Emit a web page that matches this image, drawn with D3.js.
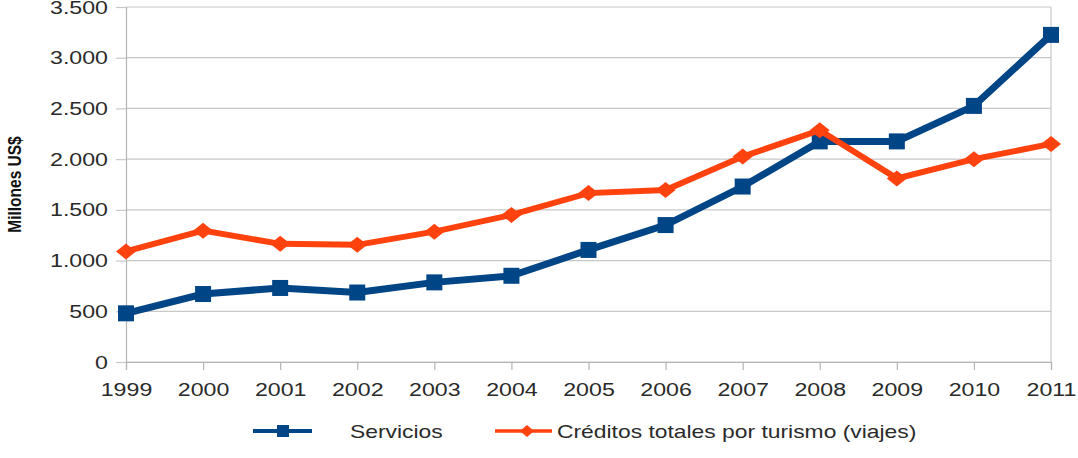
<!DOCTYPE html>
<html>
<head>
<meta charset="utf-8">
<script src="https://cdn.jsdelivr.net/npm/d3@7"></script>
<style>
  html, body { margin: 0; padding: 0; background: #fff; }
  svg { display: block; font-family: "Liberation Sans", Arial, sans-serif; }
</style>
</head>
<body>
<svg id="chart" width="1078" height="458"></svg>
<script>
const years = ["1999","2000","2001","2002","2003","2004","2005","2006","2007","2008","2009","2010","2011"];
const servicios = [480, 670, 730, 685, 785, 850, 1105, 1350, 1730, 2175, 2175, 2525, 3225];
const creditos = [1090, 1295, 1165, 1155, 1285, 1450, 1665, 1695, 2025, 2285, 1810, 2000, 2150];
const yTicks = [0, 500, 1000, 1500, 2000, 2500, 3000, 3500];
const seriesNames = ["Servicios", "Créditos totales por turismo (viajes)"];
const yLabel = "Millones US$";

(function () {
const svg = d3.select("#chart");
const pL = 126, pR = 1051, pT = 7, pB = 362;
const SX = 1.22;
const textColor = "#2a2a2a";
const blue = "#004586", orange = "#ff420e";

const x = d3.scalePoint().domain(years).range([pL, pR]).padding(0);
const y = d3.scaleLinear().domain([0, 3500]).range([pB, pT]);
const fmt = d => d3.format(",")(d).replace(/,/g, ".");

// gridlines
svg.append("g").selectAll("line").data(yTicks).join("line")
  .attr("x1", pL).attr("x2", pR)
  .attr("y1", d => y(d)).attr("y2", d => y(d))
  .attr("stroke", "#c8c8c8").attr("stroke-width", 1.2);

// right frame line
svg.append("line").attr("x1", pR).attr("x2", pR).attr("y1", pT).attr("y2", pB)
  .attr("stroke", "#c8c8c8").attr("stroke-width", 1.2);

// Y axis
const yAxis = svg.append("g").attr("transform", `translate(${pL},0)`)
  .call(d3.axisLeft(y).tickValues(yTicks).tickFormat(fmt).tickSize(10).tickPadding(8));
yAxis.select(".domain").attr("stroke", "#b4b4b4").attr("stroke-width", 1.2);
yAxis.selectAll(".tick line").attr("stroke", "#c8c8c8").attr("stroke-width", 1.2);
yAxis.selectAll(".tick text")
  .attr("font-size", 19).attr("fill", textColor)
  .attr("x", -18 / SX).attr("transform", `scale(${SX},1)`);

// X axis
const xAxis = svg.append("g").attr("transform", `translate(0,${pB})`)
  .call(d3.axisBottom(x).tickSize(8).tickPadding(13));
xAxis.select(".domain").attr("stroke", "#b4b4b4").attr("stroke-width", 1.2);
xAxis.selectAll(".tick line").attr("stroke", "#b4b4b4").attr("stroke-width", 1.2);
xAxis.selectAll(".tick text")
  .attr("font-size", 19).attr("fill", textColor)
  .attr("transform", `scale(${SX},1)`);

// Y label
svg.append("text")
  .attr("transform", `translate(21,${(pT + pB) / 2}) rotate(-90) scale(1,${SX})`)
  .attr("text-anchor", "middle")
  .attr("font-size", 15.5).attr("font-weight", "bold").attr("fill", "#111")
  .text(yLabel);

const line = d3.line().x((d, i) => x(years[i])).y(d => y(d));
const diamond = (w, h) => `M0,${-h}L${w},0L0,${h}L${-w},0Z`;

svg.append("path").datum(servicios).attr("d", line)
  .attr("fill", "none").attr("stroke", blue).attr("stroke-width", 7).attr("stroke-linejoin", "miter");
svg.append("g").selectAll("rect").data(servicios).join("rect")
  .attr("x", (d, i) => x(years[i]) - 8).attr("y", d => y(d) - 8)
  .attr("width", 16).attr("height", 16).attr("fill", blue);

svg.append("path").datum(creditos).attr("d", line)
  .attr("fill", "none").attr("stroke", orange).attr("stroke-width", 6).attr("stroke-linejoin", "miter");
svg.append("g").selectAll("path").data(creditos).join("path")
  .attr("transform", (d, i) => `translate(${x(years[i])},${y(d)})`)
  .attr("d", diamond(10, 8)).attr("fill", orange);

// Legend
const ly = 431;
const lg = svg.append("g");
lg.append("line").attr("x1", 253).attr("x2", 312).attr("y1", ly).attr("y2", ly)
  .attr("stroke", blue).attr("stroke-width", 4);
lg.append("rect").attr("x", 283 - 6).attr("y", ly - 6).attr("width", 12).attr("height", 12).attr("fill", blue);
lg.append("text").attr("transform", `translate(350,${ly + 7}) scale(1.27,1)`)
  .attr("font-size", 18).attr("fill", textColor).text(seriesNames[0]);

lg.append("line").attr("x1", 495).attr("x2", 552).attr("y1", ly).attr("y2", ly)
  .attr("stroke", orange).attr("stroke-width", 3.5);
lg.append("path").attr("transform", `translate(527,${ly})`).attr("d", diamond(7, 6)).attr("fill", orange);
lg.append("text").attr("transform", `translate(557,${ly + 7}) scale(1.27,1)`)
  .attr("font-size", 18).attr("fill", textColor).text(seriesNames[1]);
})();
</script>
</body>
</html>
